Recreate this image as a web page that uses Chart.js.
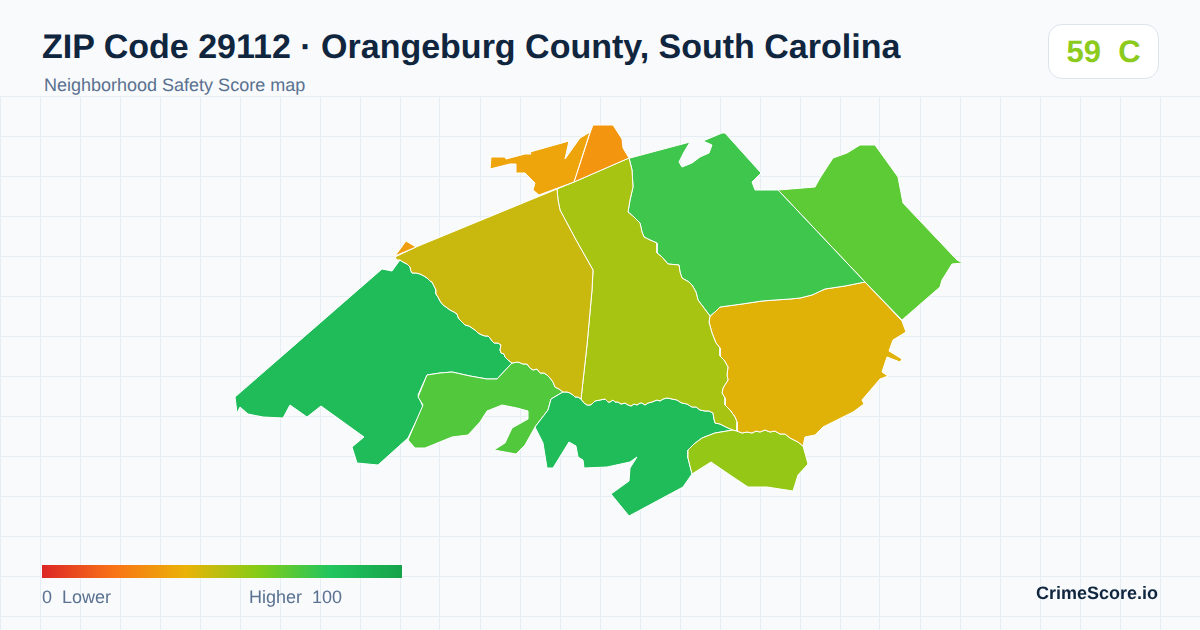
<!DOCTYPE html>
<html><head><meta charset="utf-8">
<script src="https://cdn.jsdelivr.net/npm/chart.js@4/dist/chart.umd.min.js"></script>
<style>
html,body{margin:0;padding:0;background:#f8fafc;width:1200px;height:630px;overflow:hidden;font-family:"Liberation Sans",Arial,sans-serif;text-rendering:geometricPrecision}
#wrap{position:absolute;left:0;top:96px;width:1200px;height:534px}
.t{position:absolute;white-space:pre}
#title{left:42px;top:26px;font-size:34px;line-height:42px;font-weight:700;color:#10263f}
#sub{left:44px;top:75px;font-size:18px;line-height:20px;color:#5a7190}
#badge{position:absolute;left:1048px;top:24px;width:109px;height:53px;border:1px solid #dde4ec;border-radius:14px;background:#fff;text-align:center;font-size:31px;line-height:53px;font-weight:700;color:#8ccb1e;white-space:pre}
#bar{position:absolute;left:42px;top:565px;width:360px;height:13px;background:linear-gradient(90deg,#dc2626 0%,#f97316 20%,#eab308 40%,#84cc16 60%,#22c55e 80%,#16a34a 100%)}
.l{top:587px;font-size:18px;line-height:20px;color:#5a7190}
#brand{left:1036px;top:583px;font-size:18px;line-height:20px;font-weight:700;color:#10263f}
</style></head><body>
<div id="wrap"><canvas id="c" width="1200" height="534"></canvas></div>
<div class="t" id="title">ZIP Code 29112 · Orangeburg County, South Carolina</div>
<div class="t" id="sub">Neighborhood Safety Score map</div>
<div id="badge">59  C</div>
<div id="bar"></div>
<div class="t l" style="left:42px">0  Lower</div>
<div class="t l" style="left:249px">Higher  100</div>
<div class="t" id="brand">CrimeScore.io</div>
<script>
// Grid positions in map units
const gridX = [0,40,80,120,160,200,240,280,320,360,400,440,480,520,560,600,640,680,720,760,800,840,880,920,960,1000,1040,1080,1120,1160,1200];
const gridY = [96,136,176,216,256,296,336,376,416,456,496,536,576,616];

// Shared boundaries, in projected map units
const ridgeLine = [[395,257],[416,247],[557,189],[574,182],[629,158]];
const edgeWestC = [[395,257],[397,260],[400,260],[403,262],[407,264],[410,267],[411,271],[412,273],[416,273],[420,274],[424,276],[427,278],[430,281],[432,282],[434,286],[436,290],[436,294],[438,297],[440,301],[443,305],[446,307],[450,310],[454,312],[457,314],[458,317],[459,319],[462,322],[465,325],[469,326],[472,328],[475,330],[478,333],[482,335],[485,336],[488,336],[490,338],[492,341],[494,343],[498,343],[501,345],[500,350],[501,353],[504,354],[505,357],[508,360],[512,363]];
const edgeCI = [[512,363],[518,362],[523,364],[527,364],[530,368],[533,370],[537,369],[540,373],[544,373],[547,375],[550,378],[553,382],[555,387],[559,389],[563,392]];
const edgeCG = [[563,392],[567,392],[570,393],[573,395],[575,397],[578,397],[581,399]];
const edgeCD = [[557,189],[558,200],[560,210],[576,240],[593,270],[592,290],[587,345],[581,399]];
const edgeDG = [[581,399],[584,403],[587,405],[590,405],[592,404],[595,401],[600,400],[605,399],[608,402],[610,402],[613,400],[615,402],[618,402],[621,404],[625,403],[628,405],[631,406],[634,404],[637,405],[640,403],[642,403],[645,405],[648,403],[652,402],[657,400],[660,401],[663,399],[667,398],[672,399],[677,400],[680,402],[682,403],[687,404],[692,407],[696,407],[700,410],[705,411],[709,411],[713,413],[714,419],[715,423],[720,424],[724,426],[728,428],[733,430]];
const edgeDE = [[629,158],[632,170],[633,187],[630,200],[628,212],[634,217],[640,223],[642,232],[644,237],[650,240],[657,243],[657,253],[662,257],[668,264],[679,265],[680,272],[682,278],[689,282],[692,285],[696,292],[698,300],[704,308],[710,316]];
const edgeDF = [[710,316],[709,322],[712,333],[716,343],[720,348],[720,356],[724,360],[728,367],[727,375],[728,380],[723,388],[722,393],[725,398],[725,405],[730,410],[735,417],[737,422],[737,431]];
const edgeEF = [[710,316],[715,312],[720,307],[742,304],[762,301],[775,300],[790,299],[800,298],[812,295],[825,289],[845,286],[865,282]];
const edgeFH = [[737,431],[742,433],[747,432],[752,433],[756,431],[760,432],[765,430],[770,432],[775,431],[780,434],[785,434],[790,438],[794,440],[798,442],[803,446]];
const edgeGH = [[733,430],[715,433],[702,438],[694,444],[688,450],[688,458],[690,466],[692,474]];
const edgeIJ = [[427,375],[440,373],[452,372],[470,376],[487,379],[497,379],[512,363]];
const edgeEK = [[778,190],[865,282]];
const edgeFK = [[865,282],[902,321]];
const edgeIG = [[563,392],[551,399],[548,410],[535,427]];

// Tract outlines
const tractNorthWest = [[491,157],[505,157],[506,159],[525,154],[531,154],[530,152],[569,141],[565,159],[580,138],[590,132],[574,182],[539,195],[533,190],[535,183],[525,173],[516,173],[516,164],[510,164],[490,169]];
const tractNorthTip = [[395,256],[406,241],[416,247]];
const tractNorth = [[593,125],[613,125],[622,139],[623,148],[629,158],[574,182],[590,133]];
const tractCentreWest = [...ridgeLine.slice(0,3), ...edgeCD, ...[...edgeCG].reverse(), ...[...edgeCI].reverse(), ...[...edgeWestC].reverse()];
const tractCentre = [[557,189],[574,182],[629,158], ...edgeDE, ...edgeDF, ...[...edgeDG].reverse(), ...[...edgeCD].reverse()];
const tractNorthEast = [[630,158],[660,150],[690,142],[684,152],[679,162],[682,167],[692,163],[700,157],[709,153],[712,145],[703,141],[722,133],[725,133],[761,173],[752,182],[755,190],...edgeEK,...[...edgeEF].reverse(),...[...edgeDE].reverse()];
const tractEast = [[778,190],[815,187],[820,178],[833,158],[847,153],[860,145],[875,145],[898,177],[903,203],[957,260],[963,263],[952,264],[942,280],[940,287],[902,320],[865,282]];
const tractSouthEast = [...edgeFK,[906,332],[893,340],[889,351],[902,359],[900,362],[887,357],[882,372],[888,376],[880,379],[862,400],[864,404],[853,412],[823,427],[815,435],[805,437],...[...edgeFH].reverse(),...[...edgeDF].reverse(),...edgeEF];
const tractSouthTip = [...edgeFH,[805,453],[808,464],[798,475],[793,491],[767,487],[748,487],[730,475],[711,462],[692,474],...[...edgeGH].reverse()];
const tractSouth = [...edgeCG,...edgeDG,...edgeGH,[683,487],[629,516],[611,494],[629,481],[630,468],[637,457],[630,462],[607,467],[584,468],[583,460],[578,457],[576,446],[569,442],[553,468],[547,468],[543,443],...[...edgeIG].reverse()];
const tractMiddle = [...edgeCI,...edgeIG,[525,445],[516,454],[494,450],[505,443],[512,428],[528,419],[528,411],[517,408],[502,405],[487,411],[480,422],[468,435],[452,437],[425,448],[415,448],[408,440],[423,405],[418,397],...edgeIJ];
const tractWest = [...edgeWestC.slice(2),...[...edgeIJ].reverse(),[418,395],[423,407],[408,438],[378,465],[357,463],[352,447],[364,437],[321,406],[307,417],[290,405],[283,418],[263,417],[248,414],[240,407],[237,413],[235,397],[382,269],[392,271]];

const tracts = [tractNorthWest,tractNorthTip,tractNorth,tractCentreWest,tractCentre,tractNorthEast,tractEast,tractSouthEast,tractSouthTip,tractSouth,tractMiddle,tractWest];
const tractColors = ['#eea50c','#f09e0e','#f4950f','#c9b90e','#a8c412','#3fc64c','#5dcb35','#e0b208','#95c816','#20bc5a','#52c93d','#20bc5a'];

new Chart(document.getElementById('c'),{
  type:'scatter',
  data:{datasets:tracts.map((t,i)=>({
    data:t.concat([t[0]]).map(p=>({x:p[0],y:p[1]})),
    showLine:true,fill:'shape',tension:0,
    backgroundColor:tractColors[i],
    borderColor:'#ffffff',borderWidth:1,pointRadius:0,pointHoverRadius:0
  }))},
  options:{
    responsive:false,animation:false,events:[],
    layout:{padding:0},
    plugins:{legend:{display:false},tooltip:{enabled:false},title:{display:false}},
    scales:{
      x:{type:'linear',min:0,max:1200,afterBuildTicks:s=>{s.ticks=gridX.map(v=>({value:v}))},
        ticks:{display:false},border:{display:false},grid:{color:'#e6eef3',lineWidth:1,drawTicks:false}},
      y:{type:'linear',min:96,max:630,reverse:true,afterBuildTicks:s=>{s.ticks=gridY.map(v=>({value:v}))},
        ticks:{display:false},border:{display:false},grid:{color:'#e6eef3',lineWidth:1,drawTicks:false}}
    }
  }
});
</script>
</body></html>
